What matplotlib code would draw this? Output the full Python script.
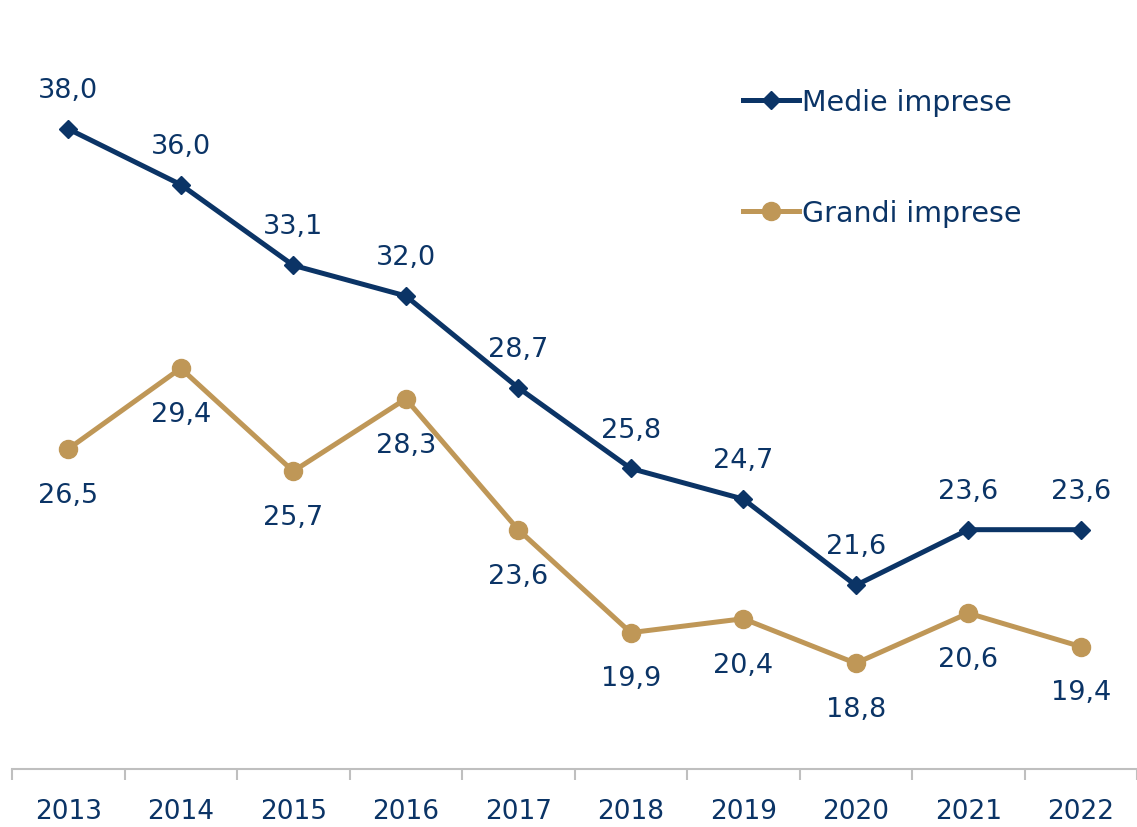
import matplotlib
matplotlib.use("Agg")
import matplotlib.pyplot as plt

years = ["2013", "2014", "2015", "2016", "2017", "2018", "2019", "2020", "2021", "2022"]
medie = [38.0, 36.0, 33.1, 32.0, 28.7, 25.8, 24.7, 21.6, 23.6, 23.6]
grandi = [26.5, 29.4, 25.7, 28.3, 23.6, 19.9, 20.4, 18.8, 20.6, 19.4]
series_names = ["Medie imprese", "Grandi imprese"]

NAVY = "#0b3466"
GOLD = "#bf9757"

plt.rcParams['font.family'] = ['DejaVu Sans']

fig = plt.figure(figsize=(11.37, 8.28), dpi=100)
ax = fig.add_axes([12/1137, 58/828, 1125/1137, 770/828])

x = list(range(len(years)))
ax.plot(x, medie, color=NAVY, lw=3.6, marker="D", markersize=9.5, label=series_names[0], zorder=3)
ax.plot(x, grandi, color=GOLD, lw=3.6, marker="o", markersize=13, label=series_names[1], zorder=3)

def fmt(v):
    return f"{v:.1f}".replace(".", ",")

for xi, v in zip(x, medie):
    ax.annotate(fmt(v), (xi, v), xytext=(0, 28), textcoords="offset points",
                ha="center", va="center", fontsize=19.5, color=NAVY)
for xi, v in zip(x, grandi):
    ax.annotate(fmt(v), (xi, v), xytext=(0, -33), textcoords="offset points",
                ha="center", va="center", fontsize=19.5, color=NAVY)

ax.set_xlim(-0.5, len(years) - 0.5)
ax.set_ylim(15.0, 42.67)
ax.set_yticks([])
for s in ["top", "right", "left"]:
    ax.spines[s].set_visible(False)
ax.spines["bottom"].set_color("#bfbfbf")
ax.spines["bottom"].set_linewidth(1.5)

ax.set_xticks(x)
ax.set_xticklabels(years, fontsize=19, color=NAVY)
ax.tick_params(axis="x", which="major", length=0, pad=21)
ax.set_xticks([i - 0.5 for i in range(len(years) + 1)], minor=True)
ax.tick_params(axis="x", which="minor", length=8, width=1.5, color="#bfbfbf")

leg = ax.legend(loc="upper left", bbox_to_anchor=(0.64, 0.899), frameon=False,
                fontsize=20.5, handlelength=1.95, handletextpad=0.1, labelspacing=2.92,
                borderaxespad=0)
for t in leg.get_texts():
    t.set_color(NAVY)

fig.savefig("out.png", dpi=100)
